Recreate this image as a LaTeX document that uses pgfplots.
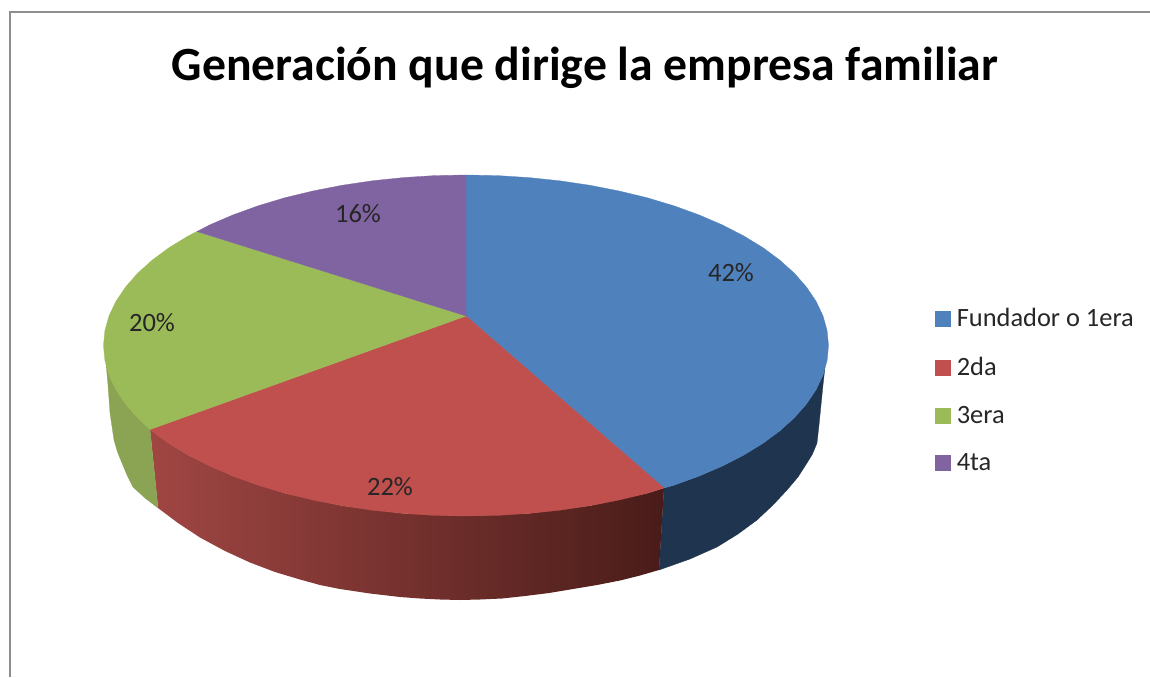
\documentclass[border=0pt]{standalone}
\usepackage{pgfplots}
\pgfplotsset{compat=1.18}
\usepackage{fontspec}
\setmainfont{Carlito}
\definecolor{cblue}{HTML}{4F81BD}
\definecolor{cred}{HTML}{C0504D}
\definecolor{cgreen}{HTML}{9BBB59}
\definecolor{cpurple}{HTML}{8064A2}
\definecolor{sblue}{HTML}{1F344E}
\definecolor{sgreen}{HTML}{8AA454}
\definecolor{sredl}{HTML}{A04643}
\definecolor{sredr}{HTML}{491C19}
\definecolor{frame}{HTML}{8E8E8E}
\begin{document}
\begin{tikzpicture}
\path[use as bounding box] (0,0) rectangle (1150pt,677pt);
\begin{axis}[
  at={(0,0)}, anchor=south west,
  scale only axis, width=1150pt, height=677pt,
  xmin=0, xmax=1150, ymin=0, ymax=677, y dir=reverse,
  hide axis, clip=true,
  legend style={at={(axis cs:934.5,306.5)}, anchor=north west, draw=none, fill=none,
    font=\fontsize{26.4}{30}\selectfont\color{black!85}, row sep=25pt, inner sep=0pt, outer sep=0pt,
    /tikz/every odd column/.append style={column sep=5pt},
    /tikz/every even column/.append style={column sep=0pt}},
  legend cell align=left,
  legend image code/.code={\fill[#1] (0pt,-7.5pt) rectangle (15pt,7.5pt);},
]
% frame
\addplot[forget plot, frame, line width=2pt] coordinates {(9.5,677) (9.5,12.5) (1150,12.5)};
% sides
\addplot[forget plot, fill=sblue, draw=sblue, line width=0.3pt] coordinates {
 (664,488) (673.9,485.2) (699,476.1) (722.3,466.1) (743.7,455.1) (763,443.3) (779.9,430.8)
 (794.5,417.6) (806.6,403.8) (816.1,389.6) (823,375.1) (825,367)
 (823,385) (821,405) (819,425) (817,443) (812.5,454) (807,463) (798,477) (787,490) (773,505)
 (757,520) (738,534) (717,547) (690,559) (659,570)} -- cycle;
\addplot[forget plot, left color=sredl, right color=sredr, draw=none] coordinates {
 (664,488) (659,570) (640,575.5) (620,580.5) (597,585) (573,589) (549,593) (525,596) (502,598.5)
 (480,599.5) (460,600) (440,599.5) (420,598.5) (400,597) (370,593.5) (340,589) (320,585) (300,579.5)
 (275,572) (250,562.5) (225,551) (200,537.5) (178,523) (158,508) (150,429.5) (169,443.3) (188.3,455.1) (233,476.1)
 (284.7,493.2) (342,505.7) (403.1,513.4) (466,516) (528.9,513.4) (590,505.7) (647.3,493.2)} -- cycle;
\addplot[forget plot, fill=sgreen, draw=sgreen, line width=0.3pt] coordinates {
 (150,429.5) (137.5,417.6) (125.4,403.8) (115.9,389.6) (109,375.1) (106,363)
 (108,385) (110,413) (114,440) (117.5,452) (122,463) (127,475) (133,487) (145,498) (158,508)} -- cycle;
% top faces
\addplot[fill=cblue, draw=cblue, line width=0.3pt] coordinates {
 (466,316) (466,175) (497.6,175.6) (528.9,177.6) (559.8,180.8) (590,185.3) (619.2,191) (647.3,197.8)
 (673.9,205.8) (699,214.9) (722.3,224.9) (743.7,235.9) (763,247.7) (779.9,260.2) (794.5,273.4)
 (806.6,287.2) (816.1,301.4) (823,315.9) (827.1,330.6) (828.5,345.5) (827.1,360.4) (823,375.1)
 (816.1,389.6) (806.6,403.8) (794.5,417.6) (779.9,430.8) (763,443.3) (743.7,455.1) (722.3,466.1)
 (699,476.1) (673.9,485.2) (664,488)} -- cycle;
\addlegendentry{Fundador o 1era}
\addplot[fill=cred, draw=cred, line width=0.3pt] coordinates {
 (466,316) (664,488) (647.3,493.2) (619.2,500) (590,505.7) (559.8,510.2) (528.9,513.4) (497.6,515.4)
 (466,516) (434.4,515.4) (403.1,513.4) (372.2,510.2) (342,505.7) (312.8,500) (284.7,493.2)
 (258.1,485.2) (233,476.1) (209.7,466.1) (188.3,455.1) (169,443.3) (150,429.5)} -- cycle;
\addlegendentry{2da}
\addplot[fill=cgreen, draw=cgreen, line width=0.3pt] coordinates {
 (466,316) (150,429.5) (137.5,417.6) (125.4,403.8) (115.9,389.6) (109,375.1) (104.9,360.4) (103.5,345.5)
 (104.9,330.6) (109,315.9) (115.9,301.4) (125.4,287.2) (137.5,273.4) (152.1,260.2) (169,247.7)
 (188.3,235.9) (197,231.5)} -- cycle;
\addlegendentry{3era}
\addplot[fill=cpurple, draw=cpurple, line width=0.3pt] coordinates {
 (466,316) (197,231.5) (209.7,224.9) (233,214.9) (258.1,205.8) (284.7,197.8) (312.8,191) (342,185.3)
 (372.2,180.8) (403.1,177.6) (434.4,175.6) (466,175)} -- cycle;
\addlegendentry{4ta}
% texts
\node[anchor=base, font=\fontsize{47.7}{52}\selectfont\bfseries, text=black] at (axis cs:585,80) {Generación que dirige la empresa familiar};
\node[font=\fontsize{26.5}{30}\selectfont, text=black!85] at (axis cs:731,273) {42\%};
\node[font=\fontsize{26.5}{30}\selectfont, text=black!85] at (axis cs:390,487) {22\%};
\node[font=\fontsize{26.5}{30}\selectfont, text=black!85] at (axis cs:152,323) {20\%};
\node[font=\fontsize{26.5}{30}\selectfont, text=black!85] at (axis cs:358,214) {16\%};
\end{axis}
\end{tikzpicture}
\end{document}
